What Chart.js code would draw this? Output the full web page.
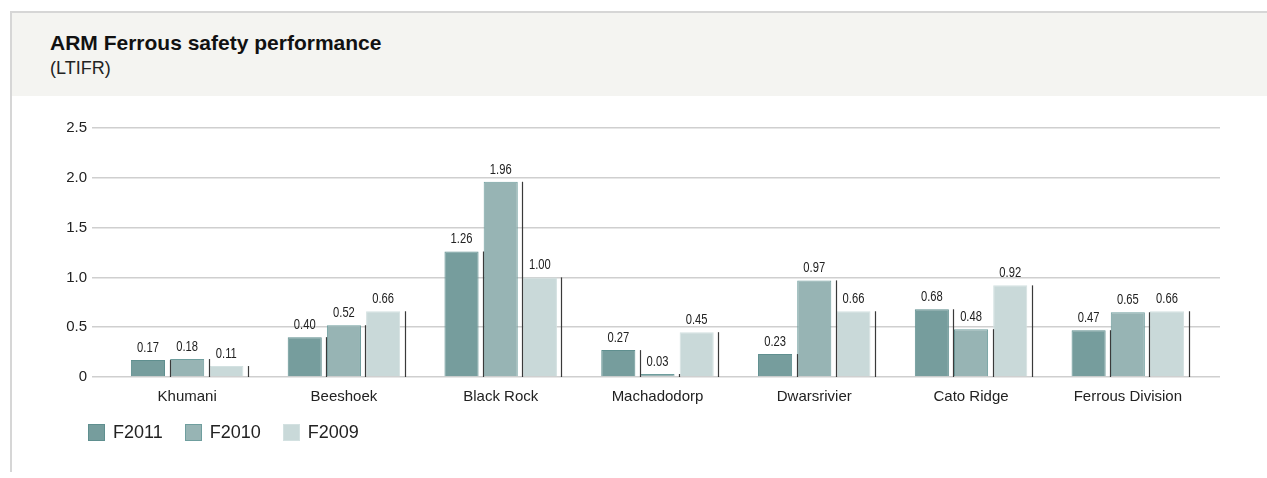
<!DOCTYPE html>
<html>
<head>
<meta charset="utf-8">
<title>ARM Ferrous safety performance</title>
<script src="https://cdn.jsdelivr.net/npm/chart.js@4"></script>
<style>
  html, body { margin: 0; padding: 0; background: #fff; }
  body { width: 1267px; height: 478px; position: relative; overflow: hidden; font-family: "Liberation Sans", Arial, sans-serif; color: #111; }
  .frame { position: absolute; left: 10px; top: 11px; right: -4px; bottom: 6px; border-top: 2px solid #d6d6d6; border-left: 2px solid #d6d6d6; }
  .header { position: absolute; left: 12px; top: 13px; width: 1255px; height: 83px; background: #f4f4f1; }
  .header h1 { position: absolute; left: 38px; top: 18px; margin: 0; font-size: 21px; font-weight: bold; color: #111; }
  .header p { position: absolute; left: 38px; top: 45px; margin: 0; font-size: 18px; color: #222; }
  .chart-box { position: absolute; left: 12px; top: 96px; width: 1255px; height: 382px; }
  .legend { position: absolute; left: 88px; top: 422px; display: flex; align-items: center; }
  .legend span.item { display: flex; align-items: center; margin-right: 22px; font-size: 18px; color: #222; }
  .legend i { display: inline-block; width: 15px; height: 15px; margin-right: 8px; border: 1px solid; }
</style>
</head>
<body>
<div class="frame"></div>
<div class="header">
  <h1>ARM Ferrous safety performance</h1>
  <p>(LTIFR)</p>
</div>
<div class="chart-box"><canvas id="safetyChart"></canvas></div>
<div class="legend" id="legend"></div>

<script>
// 各作业点
const sites = ['Khumani', 'Beeshoek', 'Black Rock', 'Machadodorp', 'Dwarsrivier', 'Cato Ridge', 'Ferrous Division'];

// 三个财年的 LTIFR
const f2011 = [0.17, 0.40, 1.26, 0.27, 0.23, 0.68, 0.47];
const f2010 = [0.18, 0.52, 1.96, 0.03, 0.97, 0.48, 0.65];
const f2009 = [0.11, 0.66, 1.00, 0.45, 0.66, 0.92, 0.66];

const seriesNames = ['F2011', 'F2010', 'F2009'];
const yTicks = [0, 0.5, 1.0, 1.5, 2.0, 2.5];

const fills   = ['#769d9d', '#97b4b4', '#c9d9d9'];
const borders = ['#5f8f8f', '#6f9e9e', '#d3e1e1'];

// 数组 -> {x, y}，x 轴用线性刻度，方便控制两端留白
function toPoints(values) {
    return values.map((v, i) => ({ x: i, y: v }));
}

// 每根柱子右侧的细黑线 + 顶部数值
const barDecor = {
    id: 'barDecor',
    afterDatasetsDraw(chart) {
        const ctx = chart.ctx;
        const base = chart.scales.y.getPixelForValue(0);
        chart.data.datasets.forEach((ds, di) => {
            chart.getDatasetMeta(di).data.forEach((bar, i) => {
                const right = bar.x + bar.width / 2;
                // 细线
                ctx.save();
                ctx.strokeStyle = '#3a3a3a';
                ctx.lineWidth = 1.2;
                ctx.beginPath();
                ctx.moveTo(Math.round(right + 4.5) + 0.5, bar.y);
                ctx.lineTo(Math.round(right + 4.5) + 0.5, base);
                ctx.stroke();
                ctx.restore();

                // 数值标签（稍微压窄）
                ctx.save();
                ctx.translate(bar.x, bar.y - 5);
                ctx.scale(0.8, 1);
                ctx.font = '14px "Liberation Sans", Arial, sans-serif';
                ctx.fillStyle = '#222';
                ctx.textAlign = 'center';
                ctx.textBaseline = 'bottom';
                ctx.fillText(ds.data[i].y.toFixed(2), 0, 0);
                ctx.restore();
            });
        });
    }
};

const ctx = document.getElementById('safetyChart').getContext('2d');

const safetyChart = new Chart(ctx, {
    type: 'bar',
    data: {
        datasets: [f2011, f2010, f2009].map((vals, k) => ({
            label: seriesNames[k],
            data: toPoints(vals),
            backgroundColor: fills[k],
            borderColor: borders[k],
            borderWidth: 1,
            categoryPercentage: 0.75,
            barPercentage: 0.87
        }))
    },
    options: {
        responsive: true,
        maintainAspectRatio: false,
        animation: false,
        layout: { padding: { left: 0, right: 47, top: 32, bottom: 0 } },
        plugins: {
            legend: { display: false },
            tooltip: { enabled: false }
        },
        scales: {
            x: {
                type: 'linear',
                min: -0.607,
                max: 6.588,
                offset: false,
                grid: { display: false },
                border: { display: false },
                ticks: {
                    stepSize: 1,
                    includeBounds: false,
                    autoSkip: false,
                    maxRotation: 0,
                    padding: 3,
                    color: '#222',
                    font: { family: '"Liberation Sans", Arial, sans-serif', size: 15 },
                    callback: v => Number.isInteger(v) ? sites[v] : ''
                },
                afterFit(scale) { scale.height = 101; }
            },
            y: {
                min: 0,
                max: 2.5,
                z: 1,  // 网格线压在柱子上面
                grid: { color: '#cfcfcf', lineWidth: 1.6, drawTicks: false },
                border: { display: false },
                afterBuildTicks(scale) {
                    scale.ticks = yTicks.map(v => ({ value: v }));
                },
                ticks: {
                    padding: 5,
                    color: '#222',
                    font: { family: '"Liberation Sans", Arial, sans-serif', size: 15 },
                    callback: v => v === 0 ? '0' : v.toFixed(1)
                },
                afterFit(scale) { scale.width = 80; }
            }
        }
    },
    plugins: [barDecor]
});

// 图例
const legend = document.getElementById('legend');
seriesNames.forEach((name, k) => {
    const item = document.createElement('span');
    item.className = 'item';
    item.innerHTML = `<i style="background:${fills[k]};border-color:${borders[k]}"></i>${name}`;
    legend.appendChild(item);
});
</script>
</body>
</html>
